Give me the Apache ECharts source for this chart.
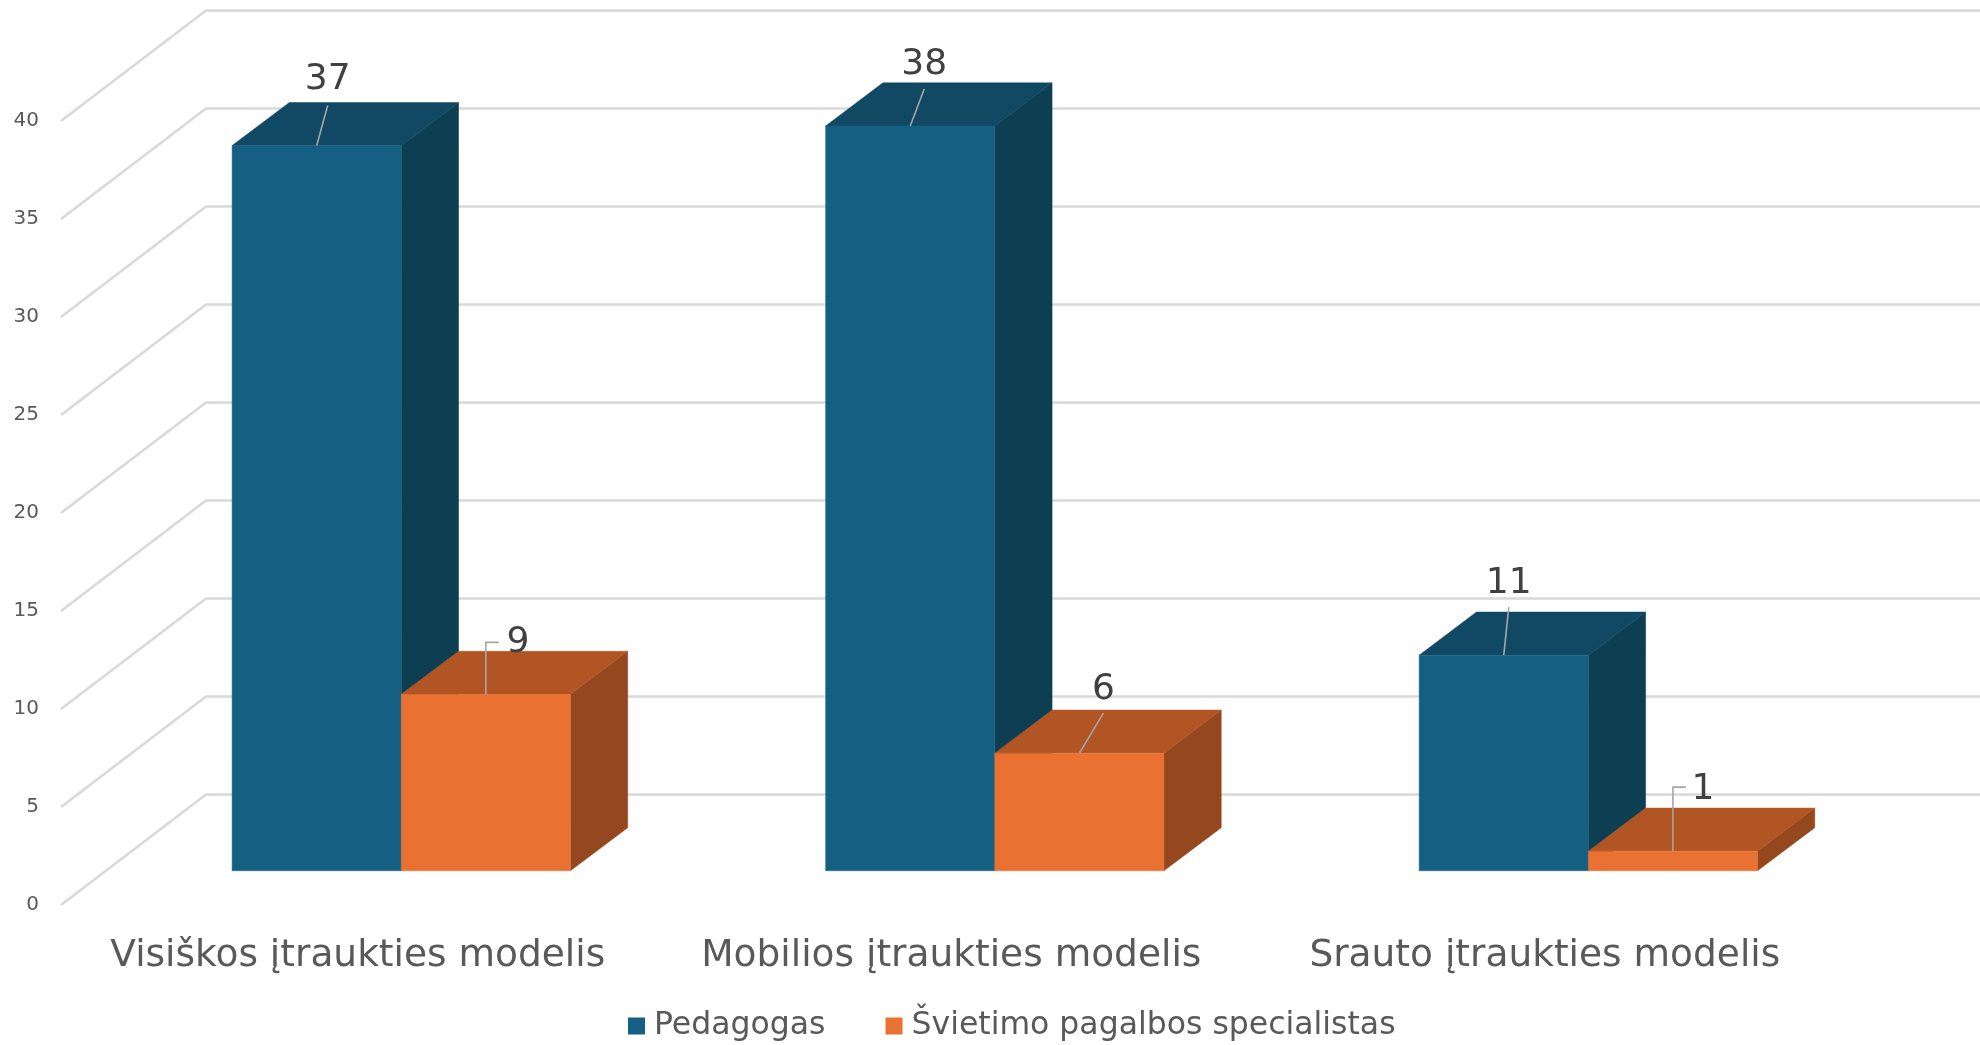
<!DOCTYPE html>
<html>
<head>
<meta charset="utf-8">
<style>html,body{margin:0;padding:0;background:#fff}#c{width:1980px;height:1045px}</style>
<script src="https://cdn.jsdelivr.net/npm/echarts@6/dist/echarts.min.js"></script>
</head>
<body>
<div id="c"></div>
<script>
const categories = ['Visiškos įtraukties modelis', 'Mobilios įtraukties modelis', 'Srauto įtraukties modelis'];
const pedagogas = [37, 38, 11];
const specialistas = [9, 6, 1];
const yTicks = [0, 5, 10, 15, 20, 25, 30, 35, 40];
const seriesNames = ['Pedagogas', 'Švietimo pagalbos specialistas'];

const FONT = '"DejaVu Sans", Verdana, sans-serif';
const DX = 145, DY = 110.5;
const FRONT_GAP_X = 0.3, FRONT_GAP_Y = 0.31, BAR_DEPTH_X = 0.395, BAR_DEPTH_Y = 0.39, BAR_BAND = 0.285;
const blue = { front: '#156082', top: '#114864', side: '#0D3F53' };
const orange = { front: '#E97132', top: '#B25525', side: '#95471E' };

// Leader line bend points and text position, relative to the bar's top-front centre
const leaderBlue = [
  { line: [[11, -40]], text: [11, -66] },
  { line: [[14, -37]], text: [14, -61] },
  { line: [[5, -48]], text: [5, -72] }
];
const leaderOrange = [
  { line: [[0, -52], [13, -52]], text: [32, -52] },
  { line: [[24, -40]], text: [24, -64] },
  { line: [[0, -64], [13, -64]], text: [30, -62] }
];

function wallRender(params, api) {
  const cs = params.coordSys;
  const y = api.coord([0, api.value(0)])[1];
  return {
    type: 'polyline',
    shape: { points: [[cs.x, y], [cs.x + DX, y - DY], [cs.x + cs.width + DX, y - DY]] },
    style: { stroke: '#D9D9D9', lineWidth: 2.6, fill: null }
  };
}

function barRender(seriesIndex, colors, leaders) {
  return function (params, api) {
    const i = api.value(0);
    const top = api.coord([i, api.value(1)]);
    const base = api.coord([i, 0]);
    const band = api.size([1, 0])[0];
    const w = band * BAR_BAND;
    const ox = DX * FRONT_GAP_X, oy = DY * FRONT_GAP_Y;
    const x0 = base[0] + ox + (seriesIndex - 1) * w;
    const x1 = x0 + w;
    const yb = base[1] - oy, yt = top[1] - oy;
    const dx = DX * BAR_DEPTH_X, dy = DY * BAR_DEPTH_Y;
    const ax = (x0 + x1) / 2, ay = yt;
    const l = leaders[i];
    const pts = [[ax, ay]].concat(l.line.map(p => [ax + p[0], ay + p[1]]));
    return {
      type: 'group',
      children: [
        { type: 'polygon', shape: { points: [[x1, yb], [x1 + dx, yb - dy], [x1 + dx, yt - dy], [x1, yt]] },
          style: { fill: colors.side, stroke: colors.side, lineWidth: 0.5 } },
        { type: 'polygon', shape: { points: [[x0, yt], [x1, yt], [x1 + dx, yt - dy], [x0 + dx, yt - dy]] },
          style: { fill: colors.top, stroke: colors.top, lineWidth: 0.5 } },
        { type: 'rect', shape: { x: x0, y: yt, width: w, height: yb - yt },
          style: { fill: colors.front, stroke: colors.front, lineWidth: 0.5 } },
        { type: 'polyline', shape: { points: pts },
          style: { stroke: '#A6A6A6', lineWidth: 1.6, fill: null } },
        { type: 'text', x: ax + l.text[0], y: ay + l.text[1],
          style: { text: String(api.value(1)), fill: '#404040', font: '36px ' + FONT,
                   align: 'center', verticalAlign: 'middle' } }
      ]
    };
  };
}

const chart = echarts.init(document.getElementById('c'), null, { renderer: 'canvas' });
chart.setOption({
  animation: false,
  backgroundColor: '#fff',
  grid: { left: 61, top: 121, width: 1780.6, height: 784, containLabel: false },
  legend: {
    data: seriesNames, left: 623, top: 1005, icon: 'rect', itemWidth: 17, itemHeight: 17,
    itemGap: 60, selectedMode: false,
    textStyle: { color: '#595959', fontFamily: FONT, fontSize: 31.5, padding: [0, 0, 0, 4] }
  },
  xAxis: {
    type: 'category', data: categories,
    axisLine: { show: false }, axisTick: { show: false }, splitLine: { show: false },
    axisLabel: { color: '#595959', fontFamily: FONT, fontSize: 37.5, margin: 32, interval: 0 }
  },
  yAxis: {
    type: 'value', min: 0, max: 40, interval: 5,
    axisLine: { show: false }, axisTick: { show: false }, splitLine: { show: false },
    axisLabel: { color: '#595959', fontFamily: FONT, fontSize: 20, margin: 22 }
  },
  series: [
    { type: 'custom', name: 'walls', silent: true, clip: false, z: 1,
      data: yTicks.map(v => [v]), encode: { y: 0 }, renderItem: wallRender },
    { type: 'custom', name: seriesNames[0], silent: true, clip: false, z: 2,
      itemStyle: { color: blue.front },
      data: pedagogas.map((v, i) => [i, v]), encode: { x: 0, y: 1 },
      renderItem: barRender(0, blue, leaderBlue) },
    { type: 'custom', name: seriesNames[1], silent: true, clip: false, z: 3,
      itemStyle: { color: orange.front },
      data: specialistas.map((v, i) => [i, v]), encode: { x: 0, y: 1 },
      renderItem: barRender(1, orange, leaderOrange) }
  ]
});
</script>
</body>
</html>
